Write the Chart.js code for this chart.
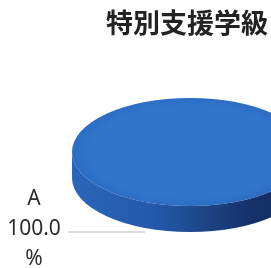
<!DOCTYPE html>
<html>
<head>
<meta charset="utf-8">
<script src="https://cdn.jsdelivr.net/npm/chart.js@4/dist/chart.umd.min.js"></script>
<style>
  html, body { margin: 0; padding: 0; background: #ffffff; overflow: hidden; width: 271px; height: 268px; }
  #wrap { position: relative; width: 271px; height: 268px; overflow: hidden; }
  #c { position: absolute; left: 0; top: 0; }
  #title { position: absolute; left: 0; top: 8px; width: 268px; text-align: right;
           font-family: "Noto Sans CJK JP", sans-serif; font-weight: bold; font-size: 27px;
           line-height: 27px; color: #222; }
</style>
</head>
<body>
<div id="wrap">
  <canvas id="c" width="310" height="272"></canvas>
  <div id="title"></div>
</div>
<script>
// ---- data ----
const chartTitle = "特別支援学級";
const categories = ["A"];
const values = [100];
const percentSuffix = "%";

// ---- styles ----
const topColor = "#3074cc";
const tilt = 0.458;   // vertical squash of the pie face
const depth = 26;     // thickness of the 3D side

document.getElementById("title").textContent = chartTitle;

const pie3d = {
  id: "pie3d",
  beforeDatasetsDraw(chart) {
    const ctx = chart.ctx;
    const arc = chart.getDatasetMeta(0).data[0];
    const { x, y, outerRadius: r } = arc.getProps(["x", "y", "outerRadius"], true);
    const ry = r * tilt;
    // side of the disc
    const g = ctx.createLinearGradient(x - r, 0, x + r, 0);
    g.addColorStop(0, "#2a66ba");
    g.addColorStop(0.35, "#2459aa");
    g.addColorStop(0.55, "#1d4688");
    g.addColorStop(0.75, "#16326a");
    g.addColorStop(1, "#13295a");
    ctx.save();
    ctx.fillStyle = g;
    ctx.beginPath();
    ctx.ellipse(x, y + depth, r, ry, 0, 0, Math.PI);
    ctx.lineTo(x - r, y);
    ctx.ellipse(x, y, r, ry, 0, Math.PI, 0, true);
    ctx.closePath();
    ctx.fill();
    ctx.restore();
    // squash the face drawn by Chart.js
    ctx.save();
    ctx.translate(0, y);
    ctx.scale(1, tilt);
    ctx.translate(0, -y);
  },
  afterDatasetsDraw(chart) {
    const ctx = chart.ctx;
    ctx.restore();
    const arc = chart.getDatasetMeta(0).data[0];
    const { x, y, outerRadius: r } = arc.getProps(["x", "y", "outerRadius"], true);
    const ry = r * tilt;
    // soft rim shading on the face
    ctx.save();
    ctx.beginPath();
    ctx.ellipse(x, y, r, ry, 0, 0, Math.PI * 2);
    ctx.clip();
    ctx.translate(0, y);
    ctx.scale(1, tilt);
    const rg = ctx.createRadialGradient(x, 0, r * 0.85, x, 0, r);
    rg.addColorStop(0, "rgba(20,60,130,0)");
    rg.addColorStop(1, "rgba(20,60,130,0.12)");
    ctx.fillStyle = rg;
    ctx.fillRect(x - r, -r, 2 * r, 2 * r);
    ctx.restore();

    // data label with connector
    const total = values.reduce((a, b) => a + b, 0);
    const lineY = y + ry + depth;
    const lines = [categories[0], (values[0] / total * 100).toFixed(1), percentSuffix];
    ctx.save();
    ctx.strokeStyle = "#cfcfcf";
    ctx.lineWidth = 1.5;
    ctx.beginPath();
    ctx.moveTo(x - r - 4, lineY);
    ctx.lineTo(x - r * 0.38, lineY);
    ctx.stroke();
    ctx.fillStyle = "#2b2b2b";
    ctx.font = '21px "Noto Sans"';
    ctx.textAlign = "center";
    ctx.textBaseline = "middle";
    const lx = x - r - 38;
    lines.forEach((t, i) => ctx.fillText(t, lx, lineY - 33 + i * 30));
    ctx.restore();
  }
};

new Chart(document.getElementById("c"), {
  type: "pie",
  data: {
    labels: categories,
    datasets: [{ data: values, backgroundColor: [topColor], borderWidth: 0 }]
  },
  options: {
    responsive: false,
    animation: false,
    layout: { padding: { left: 72, right: 2, top: 34, bottom: 2 } },
    plugins: { legend: { display: false }, tooltip: { enabled: false }, title: { display: false } }
  },
  plugins: [pie3d]
});
</script>
</body>
</html>
